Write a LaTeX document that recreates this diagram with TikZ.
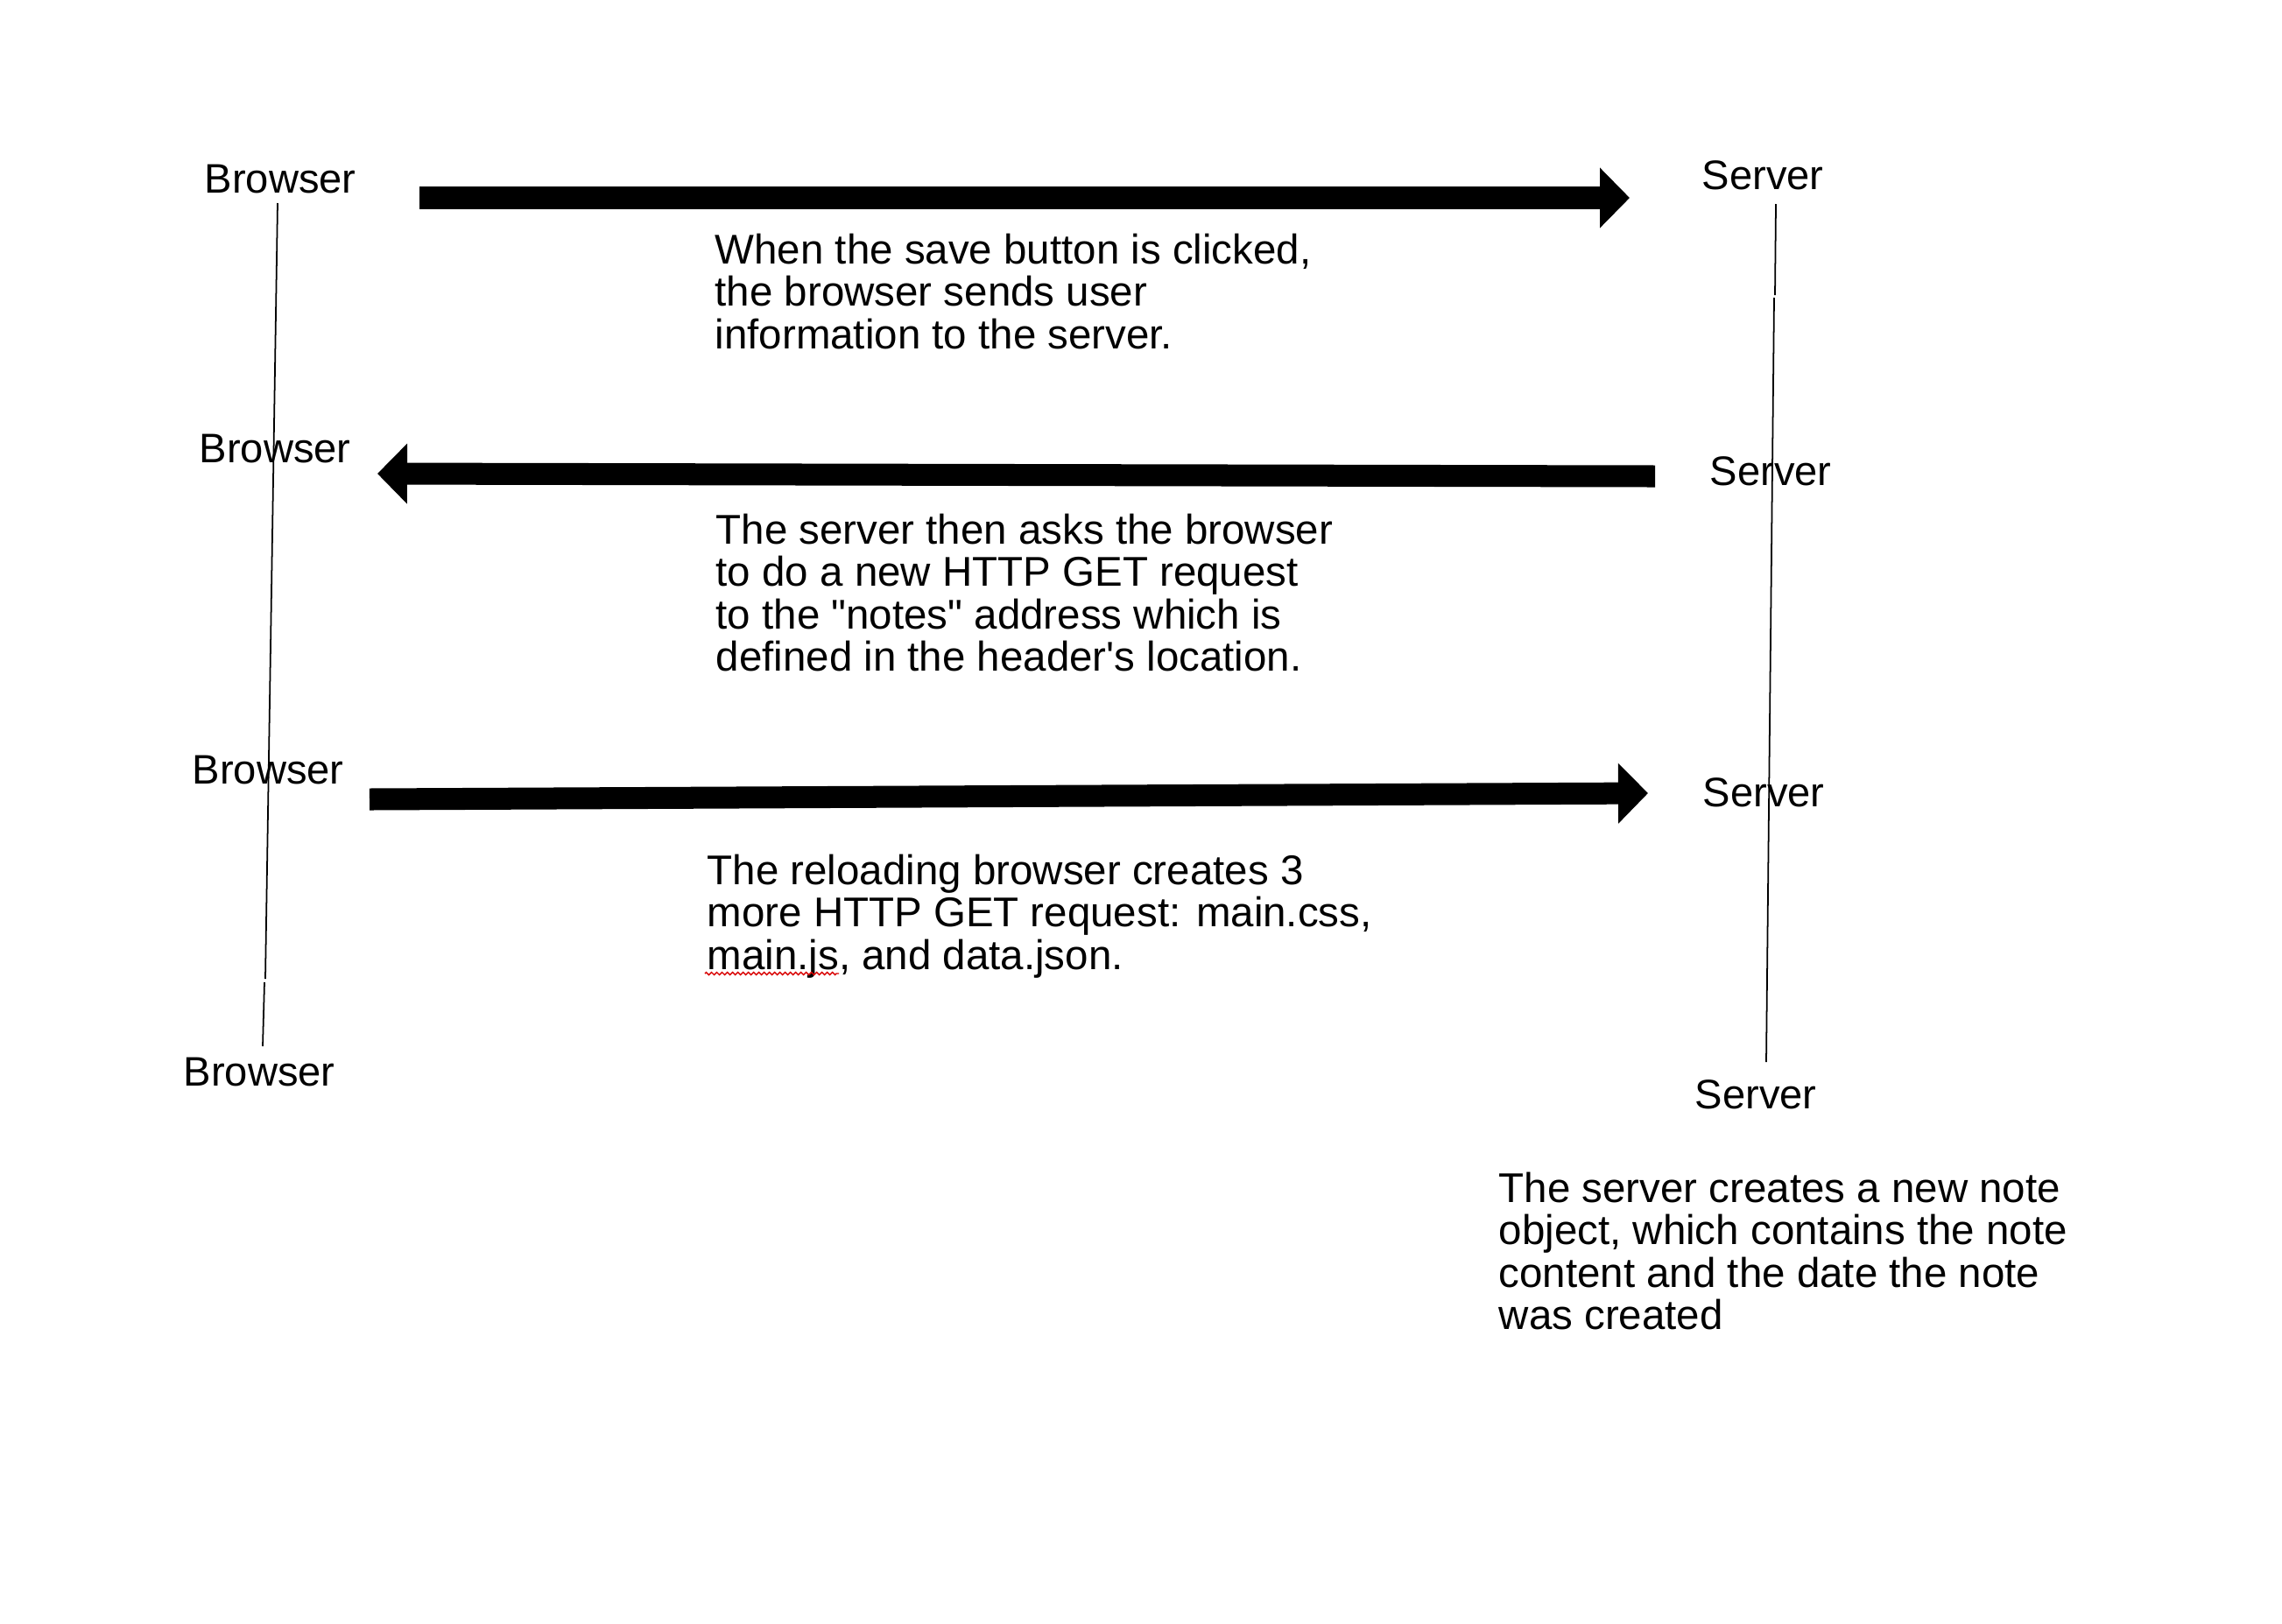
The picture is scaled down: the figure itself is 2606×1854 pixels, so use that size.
\documentclass[tikz,border=0pt]{standalone}
\usepackage{fontspec}
\setmainfont{Liberation Sans}
\usetikzlibrary{
    arrows.meta,
    %calc,
    decorations.pathmorphing,
    %positioning,
}

\begin{document}
\begin{tikzpicture}[x=0.01cm, y=-0.01cm,
        actor/.style={inner sep=0pt, anchor=base west, font=\fontsize{13.4}{13.8}\selectfont},
        note/.style={inner sep=0pt, anchor=north west, align=left, font=\fontsize{13.5}{13.8}\selectfont},
        lifeline/.style={line width=0.5pt},
        msg/.style={line width=0.25cm, -{Triangle[length=0.34cm, width=0.67cm]}},
        typo/.style={red!85!black, line width=0.4pt, decorate, decoration={zigzag, segment length=0.06cm, amplitude=0.015cm}},
        ]
        \fill[white] (0,0) rectangle (2606,1854);
        \useasboundingbox (0,0) rectangle (2606,1854);
        % actors
        \node[actor] (B1) at (233,220)  {Browser};
        \node[actor] (B2) at (227,528)  {Browser};
        \node[actor] (B3) at (219,895)  {Browser};
        \node[actor] (B4) at (209,1240) {Browser};
        \node[actor] (S1) at (1943,216) {Server};
        \node[actor] (S2) at (1952,554) {Server};
        \node[actor] (S3) at (1944,921) {Server};
        \node[actor] (S4) at (1935,1266) {Server};
        % lifelines
        \coordinate (BL1) at (317,232);
        \coordinate (BL2) at (303,1118);
        \coordinate (BL3) at (302,1122);
        \coordinate (BL4) at (300,1195);
        \coordinate (SL1) at (2028,233);
        \coordinate (SL2) at (2027,337);
        \coordinate (SL3) at (2026,340);
        \coordinate (SL4) at (2017,1213);
        \draw[lifeline] (BL1) -- (BL2);
        \draw[lifeline] (BL3) -- (BL4);
        \draw[lifeline] (SL1) -- (SL2);
        \draw[lifeline] (SL3) -- (SL4);
        % messages
        \coordinate (M1a) at (479,226);
        \coordinate (M1b) at (1861,226);
        \coordinate (M2a) at (1890,544);
        \coordinate (M2b) at (431,541);
        \coordinate (M3a) at (422,913);
        \coordinate (M3b) at (1882,906);
        \draw[msg] (M1a) -- (M1b);
        \draw[msg] (M2a) -- (M2b);
        \draw[msg] (M3a) -- (M3b);
        % notes
        \node[note] (N1) at (816,266) {When the save button is clicked,\\the browser sends user\\information to the server.};
        \node[note] (N2) at (817,586) {The server then asks the browser\\to do a new HTTP GET request\\to the \textquotedbl notes\textquotedbl{} address which is\\defined in the header\textquotesingle s location.};
        \node[note] (N3) at (807,975) {The reloading browser creates 3\\more HTTP GET request: main.css,\\main.js, and data.json.};
        \node[note] (N4) at (1711,1338) {The server creates a new note\\object, which contains the note\\content and the date the note\\was created};
        \coordinate (T1) at (805,1112);
        \coordinate (T2) at (958,1112);
        \draw[typo] (T1) -- (T2);
    \end{tikzpicture}
\end{document}
